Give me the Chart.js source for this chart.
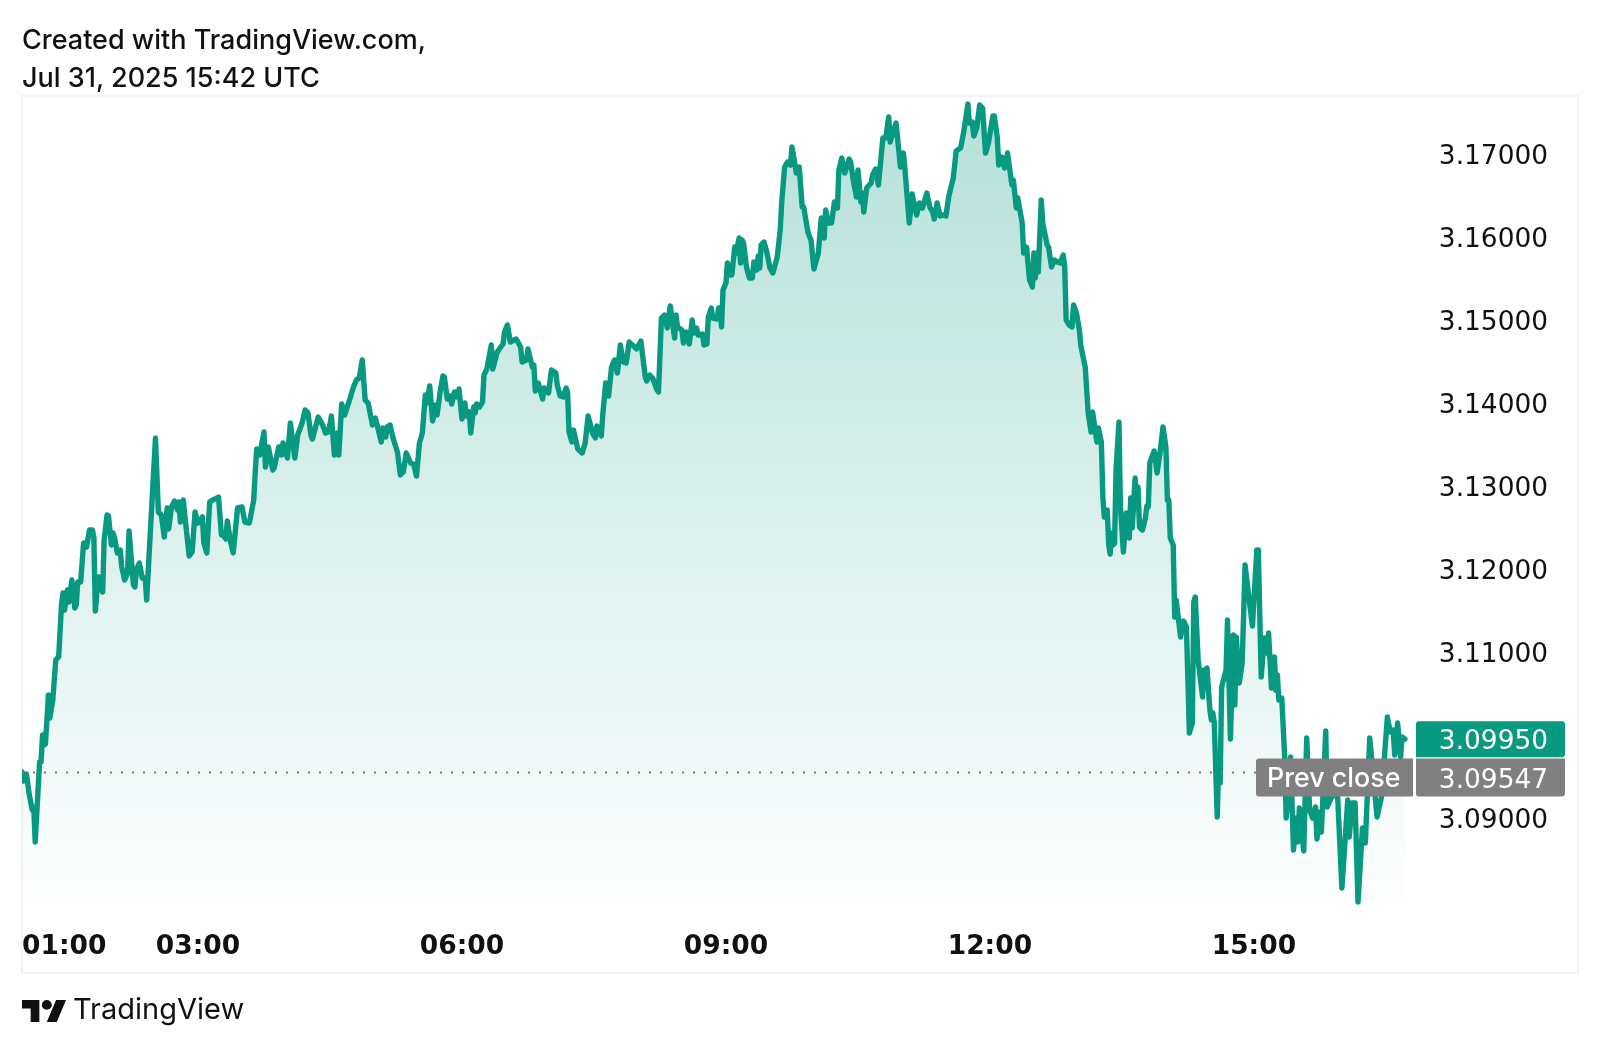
<!DOCTYPE html>
<html lang="en">
<head>
<meta charset="UTF-8">
<title>TradingView chart</title>
<script src="https://cdn.jsdelivr.net/npm/chart.js@4"></script>
<style>
  body { margin: 0; background: #fff; width: 1600px; height: 1050px; overflow: hidden; position: relative; font-family: Inter, sans-serif; color: #111; }
  #chart { position: absolute; left: 0; top: 0; }
  .head { position: absolute; left: 22px; font-size: 27px; font-weight: 500; line-height: 38px; white-space: nowrap; }
  #brand { position: absolute; left: 73px; top: 990px; font-size: 29px; line-height: 38px; }
  #logo { position: absolute; left: 22px; top: 1000px; }
</style>
</head>
<body>
<canvas id="chart" width="1600" height="1050"></canvas>
<div class="head" style="top:21px">Created with TradingView.com,</div>
<div class="head" style="top:59px">Jul 31, 2025 15:42 UTC</div>
<svg id="logo" width="44" height="22" viewBox="0 4 35.5 18" preserveAspectRatio="none"><path d="M14 22H7V11H0V4h14v18zM28 22h-8l7.5-18h8L28 22z" fill="#111"/><circle cx="20" cy="8" r="4" fill="#111"/></svg>
<div id="brand">TradingView</div>
<script>
// minutes since midnight
const minutes = [
  60,61,63,65,67,68,69,72,73,74,75,76,78,79,81,83,85,87,88,89,91,92,94,96,97,98,100,102,104,106,
  108,109,110,112,113,115,116,118,119,121,122,123,125,127,128,130,132,133,136,137,138,140,142,144,145,151,153,155,157,159,
  160,162,164,166,167,168,170,171,174,176,178,180,183,184,186,188,190,194,196,197,199,200,202,204,207,210,212,215,218,219,
  220,222,225,226,228,231,232,235,237,238,241,243,246,248,251,253,255,257,258,262,265,267,269,271,273,275,276,278,280,284,
  286,288,290,292,294,296,299,301,305,306,308,309,311,313,316,318,320,322,325,327,329,331,333,335,336,338,340,342,343,345,
  347,348,350,352,353,355,357,358,360,362,363,365,366,368,369,370,372,374,375,377,380,381,384,387,388,389,391,393,397,400,
  401,404,405,408,409,410,412,415,416,419,421,424,425,427,429,431,432,433,435,436,439,442,444,446,449,451,452,455,456,458,
  460,462,464,466,468,470,472,474,477,479,482,485,486,488,490,493,494,496,498,500,502,505,506,507,510,511,513,515,517,518,
  520,521,524,525,527,528,530,531,534,535,536,537,538,540,541,543,544,546,547,549,550,551,552,554,556,558,559,561,562,563,
  564,566,568,570,572,575,577,578,580,582,584,585,586,588,590,592,593,596,598,600,603,605,607,608,610,612,614,616,617,619,
  621,624,625,627,629,630,632,633,634,636,639,640,642,644,647,649,651,652,656,659,661,662,665,667,670,672,674,677,679,681,
  682,684,686,688,690,692,695,697,700,702,705,706,708,709,711,713,715,717,719,722,723,725,726,728,730,732,735,736,738,739,
  742,743,745,747,749,750,751,752,753,755,756,759,760,762,764,766,768,770,771,772,774,776,777,779,781,782,785,787,789,790,
  793,794,796,797,798,800,801,802,803,804,805,806,808,809,811,813,815,816,817,819,820,821,822,824,826,827,828,829,832,834,
  836,838,840,841,842,843,845,846,847,850,852,854,856,858,859,860,862,865,866,867,868,870,871,872,873,875,876,877,878,881,
  882,884,886,887,888,890,892,894,896,899,902,903,905,907,909,910,912,914,915,916,917,919,921,922,925,927,929,930,931,934,
  936,938,940,942,943,945,946,949,950,953,957,960,964,965,967,969,971,974,976,979,984,987,991,993,995,996,998,1000,1001,1003
];
const prices = [
  3.09554,3.09446,3.09530,3.09277,3.09096,3.09133,3.08711,3.09675,3.09675,3.10000,3.09880,3.09892,3.10482,3.10205,3.10422,3.10904,3.10940,3.11590,3.11711,3.11506,3.11747,3.11602,3.11867,3.11530,3.11566,3.11843,3.11843,3.12313,3.12265,3.12470,
  3.12470,3.12386,3.11494,3.11904,3.11904,3.11723,3.12349,3.12651,3.12639,3.12289,3.12434,3.12386,3.12193,3.12229,3.12024,3.11867,3.11952,3.12458,3.11807,3.11783,3.11988,3.12072,3.11892,3.11892,3.11627,3.13578,3.12687,3.12651,3.12386,3.12735,
  3.12482,3.12747,3.12819,3.12711,3.12807,3.12566,3.12831,3.12651,3.12157,3.12205,3.12687,3.12554,3.12627,3.12313,3.12193,3.12807,3.12831,3.12867,3.12410,3.12410,3.12361,3.12578,3.12349,3.12193,3.12735,3.12747,3.12566,3.12554,3.12831,3.13157,
  3.13446,3.13373,3.13651,3.13229,3.13470,3.13193,3.13217,3.13470,3.13373,3.13518,3.13337,3.13759,3.13337,3.13614,3.13759,3.13916,3.13880,3.13614,3.13566,3.13831,3.13735,3.13639,3.13651,3.13843,3.13373,3.13639,3.13373,3.13988,3.13855,3.14072,
  3.14193,3.14277,3.14301,3.14518,3.14036,3.14000,3.13735,3.13819,3.13530,3.13699,3.13590,3.13711,3.13735,3.13578,3.13410,3.13133,3.13169,3.13398,3.13277,3.13265,3.13120,3.13518,3.13639,3.14096,3.14000,3.14205,3.13783,3.13976,3.13855,3.14120,
  3.14325,3.14313,3.14048,3.14084,3.13988,3.14133,3.14072,3.14169,3.13807,3.14000,3.13843,3.13892,3.13639,3.13952,3.13880,3.13988,3.13952,3.14012,3.14337,3.14410,3.14699,3.14410,3.14614,3.14687,3.14711,3.14855,3.14940,3.14735,3.14771,3.14675,
  3.14494,3.14518,3.14651,3.14434,3.14458,3.14145,3.14241,3.14048,3.14181,3.14120,3.14398,3.14361,3.14217,3.14084,3.14072,3.14181,3.14133,3.13651,3.13530,3.13675,3.13446,3.13398,3.13518,3.13843,3.13639,3.13578,3.13723,3.13602,3.13855,3.14241,
  3.14084,3.14434,3.14518,3.14361,3.14699,3.14494,3.14482,3.14735,3.14687,3.14651,3.14747,3.14313,3.14265,3.14337,3.14301,3.14157,3.14133,3.15024,3.15060,3.14904,3.15169,3.14783,3.15060,3.14916,3.14879,3.14723,3.14855,3.14711,3.15000,3.14843,
  3.14904,3.14819,3.14831,3.14699,3.14711,3.15036,3.15145,3.15024,3.15012,3.15145,3.15132,3.14916,3.15361,3.15446,3.15687,3.15542,3.15542,3.15879,3.15807,3.15988,3.15687,3.15964,3.15928,3.15639,3.15506,3.15506,3.15699,3.15602,3.15771,3.15627,
  3.15904,3.15940,3.15807,3.15627,3.15566,3.15759,3.16084,3.16410,3.16843,3.16904,3.16867,3.17084,3.16988,3.16771,3.16843,3.16361,3.16361,3.16048,3.15964,3.15614,3.15807,3.16229,3.15988,3.16325,3.16169,3.16169,3.16422,3.16349,3.16807,3.16952,
  3.16771,3.16940,3.16904,3.16663,3.16482,3.16807,3.16422,3.16530,3.16301,3.16590,3.16651,3.16747,3.16819,3.16627,3.17193,3.17193,3.17446,3.17145,3.17373,3.16843,3.17012,3.16831,3.16169,3.16518,3.16265,3.16410,3.16349,3.16530,3.16361,3.16301,
  3.16217,3.16410,3.16253,3.16265,3.16253,3.16494,3.16711,3.17036,3.17072,3.17253,3.17602,3.17373,3.17386,3.17217,3.17313,3.17590,3.17554,3.17012,3.17133,3.17458,3.17458,3.17205,3.16867,3.16964,3.16831,3.17012,3.16627,3.16687,3.16349,3.16470,
  3.16169,3.15807,3.15879,3.15482,3.15398,3.15807,3.15506,3.15807,3.15578,3.16446,3.16169,3.15904,3.15879,3.15639,3.15723,3.15699,3.15687,3.15783,3.15639,3.15000,3.14940,3.14916,3.15181,3.15084,3.14879,3.14687,3.14434,3.13880,3.13651,3.13892,
  3.13530,3.13699,3.13530,3.12867,3.12627,3.12711,3.12289,3.12181,3.12434,3.12289,3.12313,3.13193,3.13771,3.12747,3.12205,3.12675,3.12373,3.12855,3.12494,3.13096,3.12735,3.12988,3.12506,3.12470,3.12614,3.12759,3.12747,3.13277,3.13422,3.13157,
  3.13398,3.13711,3.13470,3.12831,3.12831,3.12373,3.12289,3.11422,3.11627,3.11181,3.11373,3.11301,3.10024,3.10145,3.11602,3.11663,3.10904,3.10458,3.10783,3.10627,3.10807,3.10301,3.10181,3.10265,3.10145,3.09012,3.09663,3.09422,3.10578,3.10783,
  3.11386,3.09952,3.11205,3.10361,3.11181,3.10627,3.10867,3.12048,3.11747,3.11313,3.12229,3.12229,3.10699,3.11169,3.10988,3.11229,3.10566,3.10940,3.10542,3.10723,3.10422,3.10446,3.09735,3.09000,3.09735,3.08614,3.09000,3.08711,3.09121,3.08602,
  3.09964,3.09096,3.09000,3.09133,3.08747,3.09072,3.08831,3.10048,3.09133,3.09253,3.09301,3.08157,3.09217,3.08771,3.09181,3.09181,3.07988,3.08880,3.08699,3.09964,3.09012,3.09253,3.10217,3.10036,3.10060,3.09759,3.10145,3.09735,3.09976,3.09950
];
const yTicks = [3.09, 3.10, 3.11, 3.12, 3.13, 3.14, 3.15, 3.16, 3.17];
const hiddenYTicks = [3.10]; // covered by the price badges in the original
const xTickMinutes = [60, 180, 360, 540, 720, 900];
const xTickLabels = ['01:00', '03:00', '06:00', '09:00', '12:00', '15:00'];
const xMin = 60;
const xMax = 1121;
const yMin = 3.07771;
const yMax = 3.17699;
const lastPrice = 3.09950;
const prevClose = 3.09547;

const GREEN = '#089981';
const GREY = '#808080';

function roundBox(ctx, x, y, w, h, radii, color) {
  ctx.fillStyle = color;
  ctx.beginPath();
  ctx.roundRect(x, y, w, h, radii);
  ctx.fill();
}

// frame around the pane, and the badges on the price axis
const panePlugin = {
  id: 'pane',
  beforeDraw(chart) {
    const ctx = chart.ctx;
    ctx.save();
    ctx.strokeStyle = '#f0f0f0';
    ctx.lineWidth = 1.5;
    ctx.strokeRect(22, 96, 1556, 877);
    ctx.restore();
  },
  afterDatasetsDraw(chart) {
    const ctx = chart.ctx;
    const y = chart.scales.y;
    const lastY = y.getPixelForValue(lastPrice);
    const prevY = y.getPixelForValue(prevClose);
    ctx.save();
    roundBox(ctx, 1416, lastY - 18, 149, 36, [3, 3, 3, 0], GREEN);
    roundBox(ctx, 1416, prevY - 14, 149, 38, [0, 0, 3, 3], GREY);
    roundBox(ctx, 1256, prevY - 14, 157, 38, [3, 0, 0, 3], GREY);
    ctx.fillStyle = '#fff';
    ctx.font = '26.4px "DejaVu Sans", sans-serif';
    ctx.textBaseline = 'middle';
    ctx.textAlign = 'right';
    ctx.fillText(lastPrice.toFixed(5), 1548, lastY + 3);
    ctx.fillText(prevClose.toFixed(5), 1548, prevY + 9);
    ctx.textAlign = 'left';
    ctx.font = '500 26.8px Inter, sans-serif';
    ctx.fillText('Prev close', 1267, prevY + 6);
    ctx.restore();
  }
};

new Chart(document.getElementById('chart').getContext('2d'), {
  type: 'line',
  data: {
    datasets: [
      {
        data: [{ x: xMin, y: prevClose }, { x: 1000, y: prevClose }],
        borderColor: '#7a7a7a',
        borderWidth: 2,
        borderDash: [2, 9],
        pointRadius: 0
      },
      {
        data: minutes.map((m, i) => ({ x: m, y: prices[i] })),
        borderColor: GREEN,
        borderWidth: 5.4,
        borderJoinStyle: 'round',
        borderCapStyle: 'round',
        pointRadius: 0,
        tension: 0,
        fill: 'start',
        backgroundColor(context) {
          const area = context.chart.chartArea;
          if (!area) return 'rgba(8,153,129,0.15)';
          const g = context.chart.ctx.createLinearGradient(0, area.top, 0, area.bottom);
          g.addColorStop(0, 'rgba(8,153,129,0.3)');
          g.addColorStop(1, 'rgba(8,153,129,0)');
          return g;
        }
      }
    ]
  },
  options: {
    responsive: false,
    animation: false,
    events: [],
    layout: { padding: { left: 22, right: 22, top: 96, bottom: 77 } },
    plugins: { legend: { display: false }, tooltip: { enabled: false } },
    scales: {
      x: {
        type: 'linear',
        min: xMin,
        max: xMax,
        grid: { display: false, drawTicks: false },
        border: { display: false },
        afterFit(scale) { scale.height = 53; },
        afterBuildTicks(scale) {
          // the blank tick at the end keeps 15:00 centred with align: inner
          scale.ticks = xTickMinutes.concat([xMax]).map(v => ({ value: v }));
        },
        ticks: {
          align: 'inner',
          autoSkip: false,
          maxRotation: 0,
          padding: 11,
          color: '#111',
          font: { family: 'DejaVu Sans, sans-serif', size: 26.5, weight: 'bold' },
          callback(value) {
            const i = xTickMinutes.indexOf(value);
            return i < 0 ? '' : xTickLabels[i];
          }
        }
      },
      y: {
        position: 'right',
        min: yMin,
        max: yMax,
        grid: { display: false, drawTicks: false },
        border: { display: false },
        afterFit(scale) { scale.width = 0; },
        afterBuildTicks(scale) {
          scale.ticks = yTicks.map(v => ({ value: v }));
        },
        ticks: {
          mirror: true,
          padding: -30, // mirrored right axis measures from its left edge
          labelOffset: 3,
          autoSkip: false,
          color: '#111',
          font: { family: 'DejaVu Sans, sans-serif', size: 26.4 },
          callback(value) {
            return hiddenYTicks.includes(value) ? '' : value.toFixed(5);
          }
        }
      }
    }
  },
  plugins: [panePlugin]
});
</script>
</body>
</html>
